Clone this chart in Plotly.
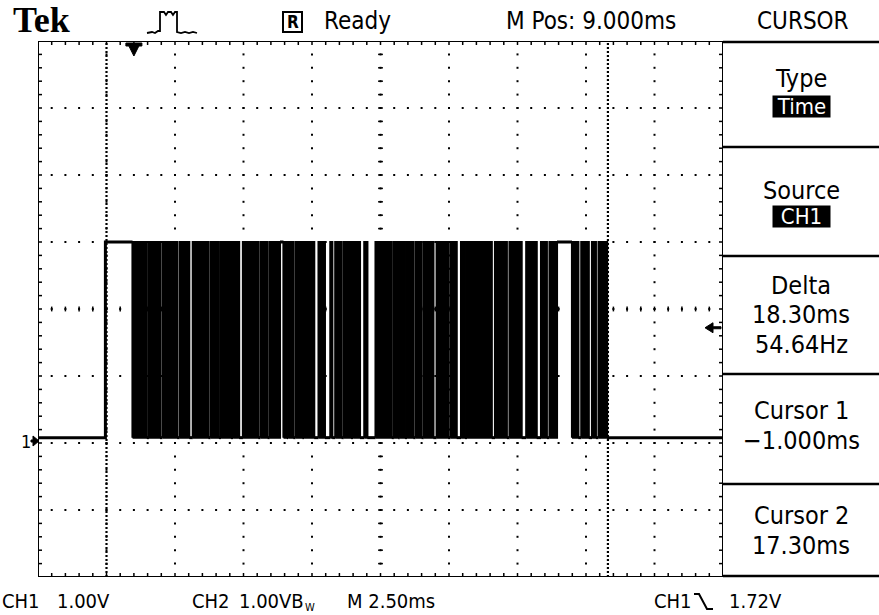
import plotly.graph_objects as go

time_per_div_ms = 2.5
m_pos_ms = 9.0
volts_per_div = 1.0
ch1_ground_div = -2.0           # CH1 ground marker position (div from centre)
cursor1_ms = -1.0
cursor2_ms = 17.30
delta_ms = 18.30
delta_hz = 54.64
trigger_level_v = 1.72

low_v = 0.08
high_v = 3.0
rise_ms = -1.04                  # line goes high
burst_start_ms = -0.05           # dense data starts
burst_end_ms = 17.27             # dense data ends, line back low

# intervals inside the burst where the line rests on one level (white stripes)
gap_start_ms = [0.47, 0.95, 1.58, 2.02, 2.72, 3.10, 3.54, 3.84, 4.54, 4.88,
                5.33, 5.58, 5.82, 6.15, 6.58, 6.97, 7.24, 7.58, 7.92, 8.25,
                8.52, 9.41, 9.65, 9.89, 10.20, 10.50, 10.93, 11.47, 11.78, 12.08,
                13.06, 13.61, 14.15, 14.70, 15.07, 15.44, 16.22, 16.60, 16.86]
gap_end_ms = [0.55, 1.04, 1.67, 2.15, 2.80, 3.18, 3.62, 3.98, 4.62, 4.96,
              5.46, 5.63, 5.90, 6.21, 6.74, 7.17, 7.35, 7.66, 8.00, 8.41,
              8.82, 9.49, 9.70, 9.97, 10.28, 10.58, 11.05, 11.55, 11.94, 12.16,
              13.18, 13.71, 14.32, 14.86, 15.17, 15.99, 16.33, 16.72, 16.96]
gap_level = ["L", "L", "L", "L", "L", "L", "L", "L", "L", "L",
             "H", "L", "L", "L", "L", "L", "L", "L", "L", "L",
             "L", "L", "L", "L", "L", "L", "L", "L", "L", "L",
             "L", "L", "L", "L", "L", "H", "L", "L", "L"]

top_texts = ["Tek", "Ready", "M Pos: 9.000ms", "CURSOR"]
menu_titles = ["Type", "Source", "Delta", "Cursor 1", "Cursor 2"]
menu_choices = ["Time", "CH1"]
bottom_texts = ["CH1", "1.00V", "CH2", "1.00VB", "M 2.50ms", "CH1", "1.72V"]

# ---------------- geometry ----------------
W, H = 879, 615
GX0, GX1, GY0, GY1 = 38, 723, 41, 577   # graticule in pixels
FONT = "DejaVu Sans Condensed, Liberation Sans Narrow, Arial Narrow, DejaVu Sans, sans-serif"

x_lo = m_pos_ms - 5 * time_per_div_ms
x_hi = m_pos_ms + 5 * time_per_div_ms
v_center = -ch1_ground_div * volts_per_div
y_lo = v_center - 4 * volts_per_div
y_hi = v_center + 4 * volts_per_div


def px(x):
    return x / W


def py(y):
    return 1 - y / H


def label(x, y, text, size, color="black", xanchor="center", **kw):
    fig.add_annotation(x=px(x), y=py(y), xref="paper", yref="paper", text=text,
                       showarrow=False, xanchor=xanchor, yanchor="middle",
                       font=dict(family=kw.pop("family", FONT), size=size, color=color), **kw)


def path_of(points, close=False):
    s = "M " + " L ".join(f"{px(a):.5f},{py(b):.5f}" for a, b in points)
    return s + (" Z" if close else "")


fig = go.Figure()

# ---------------- graticule ----------------
dx = time_per_div_ms
dy = volts_per_div
gx, gy = [], []
for k in range(1, 10):
    xv = x_lo + k * dx
    for j in range(1, 40):
        gx.append(xv)
        gy.append(y_lo + j * dy / 5)
for k in range(1, 8):
    yv = y_lo + k * dy
    for j in range(1, 50):
        gx.append(x_lo + j * dx / 5)
        gy.append(yv)
fig.add_trace(go.Scatter(x=gx, y=gy, mode="markers", hoverinfo="skip",
                         marker=dict(symbol="square", size=2, color="black"),
                         showlegend=False))

tl_x = 4 / (GX1 - GX0) * 10 * dx   # 4 px in ms
tl_y = 4 / (GY1 - GY0) * 8 * dy    # 4 px in volts
tx, ty = [], []
for j in range(1, 50):
    xv = x_lo + j * dx / 5
    tx += [xv, xv, None, xv, xv, None, xv, xv, None]
    ty += [y_hi, y_hi - tl_y, None, y_lo, y_lo + tl_y, None,
           v_center - tl_y * 0.6, v_center + tl_y * 0.6, None]
for j in range(1, 40):
    yv = y_lo + j * dy / 5
    tx += [x_lo, x_lo + tl_x, None, x_hi, x_hi - tl_x, None,
           m_pos_ms - tl_x * 0.6, m_pos_ms + tl_x * 0.6, None]
    ty += [yv, yv, None, yv, yv, None, yv, yv, None]
fig.add_trace(go.Scatter(x=tx, y=ty, mode="lines", hoverinfo="skip",
                         line=dict(color="black", width=1.5), showlegend=False))

for c in (cursor1_ms, cursor2_ms):
    fig.add_shape(type="line", xref="x", yref="y", x0=c, x1=c, y0=y_lo, y1=y_hi,
                  line=dict(color="black", width=2.2, dash="2px,2px"))

fig.add_shape(type="rect", xref="x", yref="y", x0=x_lo, x1=x_hi, y0=y_lo, y1=y_hi,
              line=dict(color="black", width=2))

# ---------------- waveform ----------------
x_line = [x_lo, rise_ms, rise_ms, burst_start_ms, None]
y_line = [low_v, low_v, high_v, high_v, None]
for s, e, lv in zip(gap_start_ms, gap_end_ms, gap_level):
    v = high_v if lv == "H" else low_v
    x_line += [s, e, None]
    y_line += [v, v, None]
x_line += [burst_end_ms, x_hi]
y_line += [low_v, low_v]
fig.add_trace(go.Scatter(x=x_line, y=y_line, mode="lines", hoverinfo="skip",
                         line=dict(color="black", width=3), showlegend=False))

starts = [burst_start_ms] + gap_end_ms
ends = gap_start_ms + [burst_end_ms]
fx, fy = [], []
for s, e in zip(starts, ends):
    fx += [s, e, e, s, s, None]
    fy += [low_v, low_v, high_v, high_v, low_v, None]
fig.add_trace(go.Scatter(x=fx, y=fy, mode="lines", fill="toself", fillcolor="black",
                         hoverinfo="skip", line=dict(color="black", width=2.2),
                         showlegend=False))

# ---------------- markers ----------------
fig.add_shape(type="path", xref="x", yref="y", xsizemode="pixel", ysizemode="pixel",
              xanchor=0.0, yanchor=y_hi,
              path="M -8,-2 L 8,-2 L 8,-5 L 5,-5 L 0,-15 L -5,-5 L -8,-5 Z",
              fillcolor="black", line=dict(color="black", width=1))
fig.add_shape(type="path", xref="x", yref="y", xsizemode="pixel", ysizemode="pixel",
              xanchor=x_hi, yanchor=trigger_level_v,
              path="M -2,-1 L -10,-1 L -10,-5 L -18,0 L -10,5 L -10,1 L -2,1 Z",
              fillcolor="black", line=dict(color="black", width=1))
g_py = GY0 + (y_hi - 0.0) / (y_hi - y_lo) * (GY1 - GY0) - 2
arrow = [(31, g_py - 1), (33, g_py - 1), (33, g_py - 5), (39, g_py), (33, g_py + 5),
         (33, g_py + 1), (31, g_py + 1)]
fig.add_shape(type="path", xref="paper", yref="paper", path=path_of(arrow, True),
              fillcolor="black", line=dict(color="black", width=1))
label(26, g_py, "1", 18)

# ---------------- header ----------------
label(11, 20, "<b>Tek</b>", 36, xanchor="left", family="Liberation Serif, DejaVu Serif, serif")
pts = [(147, 33), (152, 32), (155, 33), (158, 31), (160, 31), (160, 12), (164, 12), (166, 15),
       (168, 12), (171, 12), (173, 15), (175, 12), (177, 12), (177, 32), (181, 33), (185, 32),
       (189, 33), (193, 32), (197, 33)]
fig.add_shape(type="path", xref="paper", yref="paper", path=path_of(pts),
              line=dict(color="black", width=1.8))
fig.add_shape(type="rect", xref="paper", yref="paper", x0=px(283), x1=px(302),
              y0=py(32), y1=py(12), line=dict(color="black", width=2))
label(292.5, 22, "<b>R</b>", 17)
label(322, 21, top_texts[1], 24, xanchor="left")
label(591, 21, top_texts[2], 24)
label(803, 21, top_texts[3], 24)

# ---------------- right menu ----------------
for yy in (42, 147, 256, 374, 484, 576):
    fig.add_shape(type="line", xref="paper", yref="paper", x0=px(GX1), x1=px(W),
                  y0=py(yy), y1=py(yy), line=dict(color="black", width=2.5))

MC = 801
MS = 25
label(MC, 78, menu_titles[0], MS)
label(MC, 107, menu_choices[0], 22, color="white", bgcolor="black", width=57, height=21, borderpad=0)
label(MC, 190, menu_titles[1], MS)
label(MC, 217, menu_choices[1], 22, color="white", bgcolor="black", width=57, height=21, borderpad=0)
label(MC, 285, menu_titles[2], MS)
label(MC, 314, f"{delta_ms:.2f}ms", MS)
label(MC, 344, f"{delta_hz:.2f}Hz", MS)
label(MC, 410, menu_titles[3], MS)
label(MC, 440, f"\u2212{abs(cursor1_ms):.3f}ms", MS)
label(MC, 515, menu_titles[4], MS)
label(MC, 545, f"{cursor2_ms:.2f}ms", MS)

# ---------------- footer ----------------
for txt, xx in zip(bottom_texts, (0, 55, 190, 237, 345, 652, 727)):
    label(xx, 601, txt, 20, xanchor="left")
label(303, 607, "W", 11, xanchor="left")
slope = [(694, 594), (699, 594), (707, 609), (713, 609)]
fig.add_shape(type="path", xref="paper", yref="paper", path=path_of(slope),
              line=dict(color="black", width=2))

fig.update_xaxes(range=[x_lo, x_hi], domain=[px(GX0), px(GX1)], visible=False)
fig.update_yaxes(range=[y_lo, y_hi], domain=[py(GY1), py(GY0)], visible=False)
fig.update_layout(width=W, height=H, margin=dict(l=0, r=0, t=0, b=0),
                  paper_bgcolor="white", plot_bgcolor="white", autosize=False)

fig.write_html("out.html", config={"displayModeBar": False},
               post_script="document.body.style.margin='0';document.body.style.overflow='hidden';")
